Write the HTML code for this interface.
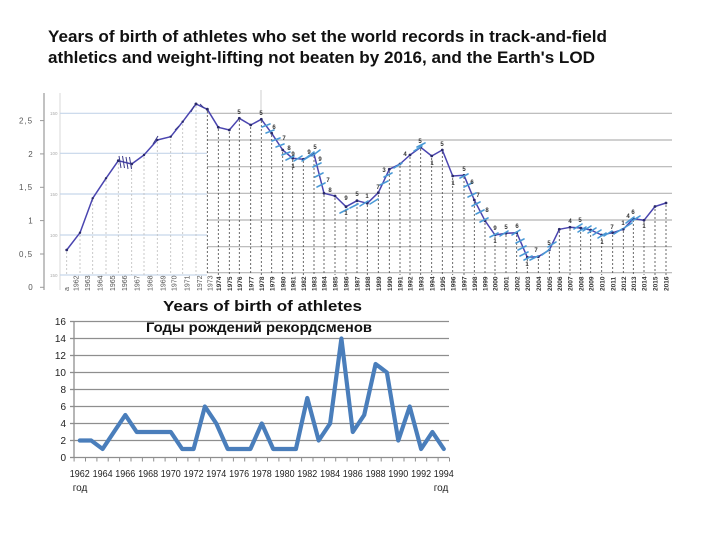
<!DOCTYPE html>
<html>
<head>
<meta charset="utf-8">
<style>
  html, body { margin:0; padding:0; background:#fff; }
  svg { display:block; }
  text { font-family: "Liberation Sans", "Noto Sans CJK SC", "DejaVu Sans", sans-serif; }
</style>
</head>
<body>
<svg width="720" height="540" viewBox="0 0 720 540" xmlns="http://www.w3.org/2000/svg">
  <rect width="720" height="540" fill="#fff"/>

  <!-- Main title -->
  <text x="48" y="42" font-size="17" font-weight="bold" fill="#111" textLength="559" lengthAdjust="spacingAndGlyphs">Years of birth of athletes who set the world records in track-and-field</text>
  <text x="48" y="63" font-size="17" font-weight="bold" fill="#111" textLength="547" lengthAdjust="spacingAndGlyphs">athletics and weight-lifting not beaten by 2016, and the Earth's LOD</text>

  <!-- ================= UPPER CHART ================= -->
  <line x1="44" y1="93" x2="44" y2="290" stroke="#9a9a9a" stroke-width="1.2"/>
  <g stroke="#9a9a9a" stroke-width="1">
    <line x1="40" y1="120.6" x2="44" y2="120.6"/>
    <line x1="40" y1="153.9" x2="44" y2="153.9"/>
    <line x1="40" y1="187.3" x2="44" y2="187.3"/>
    <line x1="40" y1="220.6" x2="44" y2="220.6"/>
    <line x1="40" y1="254" x2="44" y2="254"/>
    <line x1="40" y1="287.3" x2="44" y2="287.3"/>
  </g>
  <g font-size="8" fill="#555" text-anchor="middle" letter-spacing="1">
    <text x="26" y="123.5">2,5</text>
    <text x="31" y="156.8">2</text>
    <text x="26" y="190.2">1,5</text>
    <text x="31" y="223.5">1</text>
    <text x="26" y="256.9">0,5</text>
    <text x="31" y="290.2">0</text>
  </g>

  <line x1="60" y1="93" x2="60" y2="290" stroke="#d8d8d8" stroke-width="1"/>
  <line x1="261" y1="90" x2="261" y2="113" stroke="#cfcfcf" stroke-width="1"/>

  <g stroke="#c6d6ea" stroke-width="1.2">
    <line x1="60" y1="113.3" x2="207" y2="113.3"/>
    <line x1="60" y1="153.3" x2="207" y2="153.3"/>
    <line x1="60" y1="194" x2="207" y2="194"/>
    <line x1="60" y1="235" x2="207" y2="235"/>
    <line x1="60" y1="275" x2="207" y2="275"/>
  </g>
  <g font-size="4.5" fill="#aaa">
    <text x="50" y="115">150</text>
    <text x="50" y="155">100</text>
    <text x="50" y="196">150</text>
    <text x="50" y="237">100</text>
    <text x="50" y="277">150</text>
  </g>

  <g stroke="#b4b4b4" stroke-width="1.2">
    <line x1="207" y1="113.3" x2="672" y2="113.3"/>
    <line x1="207" y1="140" x2="672" y2="140"/>
    <line x1="207" y1="166.7" x2="672" y2="166.7"/>
    <line x1="207" y1="193.3" x2="672" y2="193.3"/>
    <line x1="207" y1="220" x2="672" y2="220"/>
    <line x1="207" y1="246.7" x2="672" y2="246.7"/>
    <line x1="207" y1="272.7" x2="672" y2="272.7"/>
  </g>

  <g stroke="#bdbdbd" stroke-width="0.8" stroke-dasharray="2,2">
    <line x1="66.7" y1="252" x2="66.7" y2="275"/>
    <line x1="80" y1="235" x2="80" y2="275"/>
    <line x1="92.7" y1="200" x2="92.7" y2="275"/>
    <line x1="106" y1="180" x2="106" y2="275"/>
    <line x1="118.3" y1="163" x2="118.3" y2="275"/>
    <line x1="131.7" y1="166" x2="131.7" y2="275"/>
    <line x1="144" y1="157" x2="144" y2="275"/>
    <line x1="157.3" y1="142" x2="157.3" y2="275"/>
    <line x1="170.7" y1="139" x2="170.7" y2="275"/>
    <line x1="182.7" y1="124" x2="182.7" y2="275"/>
    <line x1="196" y1="106" x2="196" y2="275"/>
  </g>
  <g stroke="#444" stroke-width="0.8" stroke-dasharray="2,2">
    <line x1="207.3" y1="111" x2="207.3" y2="275"/>
    <line x1="218.3" y1="129" x2="218.3" y2="275"/>
    <line x1="229.3" y1="132" x2="229.3" y2="275"/>
    <line x1="239.3" y1="120" x2="239.3" y2="275"/>
    <line x1="250.7" y1="127" x2="250.7" y2="275"/>
    <line x1="261.3" y1="121" x2="261.3" y2="275"/>
    <line x1="271.7" y1="135" x2="271.7" y2="275"/>
    <line x1="282.7" y1="152" x2="282.7" y2="275"/>
    <line x1="292.7" y1="160" x2="292.7" y2="275"/>
    <line x1="303.3" y1="161" x2="303.3" y2="275"/>
    <line x1="314" y1="156" x2="314" y2="275"/>
    <line x1="324" y1="195" x2="324" y2="275"/>
    <line x1="335" y1="198" x2="335" y2="275"/>
    <line x1="346" y1="209" x2="346" y2="275"/>
    <line x1="357" y1="203" x2="357" y2="275"/>
    <line x1="367.3" y1="205" x2="367.3" y2="275"/>
    <line x1="378.3" y1="195" x2="378.3" y2="275"/>
    <line x1="389.3" y1="171" x2="389.3" y2="275"/>
    <line x1="400" y1="166" x2="400" y2="275"/>
    <line x1="410" y1="157" x2="410" y2="275"/>
    <line x1="420.7" y1="149" x2="420.7" y2="275"/>
    <line x1="431.7" y1="158" x2="431.7" y2="275"/>
    <line x1="442.3" y1="152" x2="442.3" y2="275"/>
    <line x1="452.7" y1="178" x2="452.7" y2="275"/>
    <line x1="464" y1="177" x2="464" y2="275"/>
    <line x1="474.3" y1="202" x2="474.3" y2="275"/>
    <line x1="485" y1="223" x2="485" y2="275"/>
    <line x1="495" y1="237" x2="495" y2="275"/>
    <line x1="506" y1="235" x2="506" y2="275"/>
    <line x1="516.7" y1="235" x2="516.7" y2="275"/>
    <line x1="527.3" y1="259" x2="527.3" y2="275"/>
    <line x1="538.3" y1="259" x2="538.3" y2="275"/>
    <line x1="549.3" y1="252" x2="549.3" y2="275"/>
    <line x1="559.3" y1="231" x2="559.3" y2="275"/>
    <line x1="570" y1="229" x2="570" y2="275"/>
    <line x1="580.7" y1="228" x2="580.7" y2="275"/>
    <line x1="590.7" y1="231" x2="590.7" y2="275"/>
    <line x1="601.7" y1="238" x2="601.7" y2="275"/>
    <line x1="612.7" y1="235" x2="612.7" y2="275"/>
    <line x1="623.3" y1="231" x2="623.3" y2="275"/>
    <line x1="633.3" y1="220" x2="633.3" y2="275"/>
    <line x1="644" y1="222" x2="644" y2="275"/>
    <line x1="655" y1="209" x2="655" y2="275"/>
    <line x1="666" y1="205" x2="666" y2="275"/>
  </g>

  <g font-size="7" fill="#555">
    <text transform="translate(69,291) rotate(-90)">a</text>
    <text transform="translate(78.5,291) rotate(-90)">1962</text>
    <text transform="translate(90,291) rotate(-90)">1963</text>
    <text transform="translate(102.5,291) rotate(-90)">1964</text>
    <text transform="translate(115,291) rotate(-90)">1965</text>
    <text transform="translate(127,291) rotate(-90)">1966</text>
    <text transform="translate(139.5,291) rotate(-90)">1967</text>
    <text transform="translate(152.5,291) rotate(-90)">1968</text>
    <text transform="translate(165.5,291) rotate(-90)">1969</text>
    <text transform="translate(176.5,291) rotate(-90)">1970</text>
    <text transform="translate(189.5,291) rotate(-90)">1971</text>
    <text transform="translate(202,291) rotate(-90)">1972</text>
    <text transform="translate(212.5,291) rotate(-90)">1973</text>
  </g>
  <g font-size="6.5" fill="#333" font-weight="bold">
    <text transform="translate(221,291) rotate(-90)">1974</text>
    <text transform="translate(232,291) rotate(-90)">1975</text>
    <text transform="translate(242,291) rotate(-90)">1976</text>
    <text transform="translate(253.4,291) rotate(-90)">1977</text>
    <text transform="translate(264,291) rotate(-90)">1978</text>
    <text transform="translate(274.4,291) rotate(-90)">1979</text>
    <text transform="translate(285.4,291) rotate(-90)">1980</text>
    <text transform="translate(295.4,291) rotate(-90)">1981</text>
    <text transform="translate(306,291) rotate(-90)">1982</text>
    <text transform="translate(316.7,291) rotate(-90)">1983</text>
    <text transform="translate(326.7,291) rotate(-90)">1984</text>
    <text transform="translate(337.7,291) rotate(-90)">1985</text>
    <text transform="translate(348.7,291) rotate(-90)">1986</text>
    <text transform="translate(359.7,291) rotate(-90)">1987</text>
    <text transform="translate(370,291) rotate(-90)">1988</text>
    <text transform="translate(381,291) rotate(-90)">1989</text>
    <text transform="translate(392,291) rotate(-90)">1990</text>
    <text transform="translate(402.7,291) rotate(-90)">1991</text>
    <text transform="translate(412.7,291) rotate(-90)">1992</text>
    <text transform="translate(423.4,291) rotate(-90)">1993</text>
    <text transform="translate(434.4,291) rotate(-90)">1994</text>
    <text transform="translate(445,291) rotate(-90)">1995</text>
    <text transform="translate(455.4,291) rotate(-90)">1996</text>
    <text transform="translate(466.7,291) rotate(-90)">1997</text>
    <text transform="translate(477,291) rotate(-90)">1998</text>
    <text transform="translate(487.7,291) rotate(-90)">1999</text>
    <text transform="translate(497.7,291) rotate(-90)">2000</text>
    <text transform="translate(508.7,291) rotate(-90)">2001</text>
    <text transform="translate(519.4,291) rotate(-90)">2002</text>
    <text transform="translate(530,291) rotate(-90)">2003</text>
    <text transform="translate(541,291) rotate(-90)">2004</text>
    <text transform="translate(552,291) rotate(-90)">2005</text>
    <text transform="translate(562,291) rotate(-90)">2006</text>
    <text transform="translate(572.7,291) rotate(-90)">2007</text>
    <text transform="translate(583.4,291) rotate(-90)">2008</text>
    <text transform="translate(593.4,291) rotate(-90)">2009</text>
    <text transform="translate(604.4,291) rotate(-90)">2010</text>
    <text transform="translate(615.4,291) rotate(-90)">2011</text>
    <text transform="translate(626,291) rotate(-90)">2012</text>
    <text transform="translate(636,291) rotate(-90)">2013</text>
    <text transform="translate(646.7,291) rotate(-90)">2014</text>
    <text transform="translate(657.7,291) rotate(-90)">2015</text>
    <text transform="translate(668.7,291) rotate(-90)">2016</text>
  </g>

  <polyline fill="none" stroke="#4a45b0" stroke-width="1.5" stroke-linejoin="round" points="
    66.7,250 80,232.7 92.7,198.3 106,178.3 118.3,160.7 131.7,164 144,155 157.3,140 170.7,136.7 182.7,121.7 196,104
    207.3,109.3 218.3,127.3 229.3,130 239.3,118.3 250.7,125 261.3,119.3 271.7,133.3 282.7,150 292.7,158.3 303.3,159.3
    314,154 324,193.3 335,196 346,206.7 357,200.7 367.3,203.3 378.3,192.7 389.3,169.3 400,164 410,155 420.7,147.3
    431.7,156 442.3,150 452.7,176 464,175.3 474.3,200 485,220.7 495,235 506,233.3 516.7,232.7 527.3,257.3 538.3,256.7
    549.3,250 559.3,229.3 570,227.3 580.7,228 590.7,230 601.7,235 612.7,232.7 623.3,229.3 633.3,218.6 644,220.3
    655,206.5 666,203"/>
  <g fill="#2a2a6a">
    <circle cx="66.7" cy="250" r="1.4"/><circle cx="80" cy="232.7" r="1.2"/><circle cx="92.7" cy="198.3" r="1.2"/>
    <circle cx="106" cy="178.3" r="1.2"/><circle cx="118.3" cy="160.7" r="1.4"/><circle cx="131.7" cy="164" r="1.4"/>
    <circle cx="144" cy="155" r="1.2"/><circle cx="157.3" cy="140" r="1.2"/><circle cx="170.7" cy="136.7" r="1.2"/>
    <circle cx="182.7" cy="121.7" r="1.2"/><circle cx="196" cy="104" r="1.5"/><circle cx="207.3" cy="109.3" r="1.5"/>
    <circle cx="218.3" cy="127.3" r="1.4"/><circle cx="229.3" cy="130" r="1.4"/><circle cx="239.3" cy="118.3" r="1.4"/>
    <circle cx="250.7" cy="125" r="1.4"/><circle cx="261.3" cy="119.3" r="1.4"/><circle cx="271.7" cy="133.3" r="1.4"/>
    <circle cx="282.7" cy="150" r="1.4"/><circle cx="292.7" cy="158.3" r="1.4"/><circle cx="303.3" cy="159.3" r="1.4"/>
    <circle cx="314" cy="154" r="1.4"/><circle cx="324" cy="193.3" r="1.4"/><circle cx="335" cy="196" r="1.4"/>
    <circle cx="346" cy="206.7" r="1.4"/><circle cx="357" cy="200.7" r="1.4"/><circle cx="367.3" cy="203.3" r="1.4"/>
    <circle cx="378.3" cy="192.7" r="1.4"/><circle cx="389.3" cy="169.3" r="1.4"/><circle cx="400" cy="164" r="1.4"/>
    <circle cx="410" cy="155" r="1.4"/><circle cx="420.7" cy="147.3" r="1.4"/><circle cx="431.7" cy="156" r="1.4"/>
    <circle cx="442.3" cy="150" r="1.4"/><circle cx="452.7" cy="176" r="1.4"/><circle cx="464" cy="175.3" r="1.4"/>
    <circle cx="474.3" cy="200" r="1.4"/><circle cx="485" cy="220.7" r="1.4"/><circle cx="495" cy="235" r="1.4"/>
    <circle cx="506" cy="233.3" r="1.4"/><circle cx="516.7" cy="232.7" r="1.4"/><circle cx="527.3" cy="257.3" r="1.4"/>
    <circle cx="538.3" cy="256.7" r="1.4"/><circle cx="549.3" cy="250" r="1.4"/><circle cx="559.3" cy="229.3" r="1.4"/>
    <circle cx="570" cy="227.3" r="1.4"/><circle cx="580.7" cy="228" r="1.4"/><circle cx="590.7" cy="230" r="1.4"/>
    <circle cx="601.7" cy="235" r="1.4"/><circle cx="612.7" cy="232.7" r="1.4"/><circle cx="623.3" cy="229.3" r="1.4"/>
    <circle cx="633.3" cy="218.6" r="1.4"/><circle cx="644" cy="220.3" r="1.4"/><circle cx="655" cy="206.5" r="1.4"/>
    <circle cx="666" cy="203" r="1.4"/>
  </g>

  <g stroke="#3a3a8a" stroke-width="1">
    <line x1="119" y1="156" x2="121" y2="168"/>
    <line x1="122.5" y1="156" x2="124.5" y2="168"/>
    <line x1="126" y1="157" x2="128" y2="169"/>
    <line x1="129.5" y1="157" x2="131.5" y2="169"/>
    <line x1="153" y1="144" x2="158" y2="136"/>
    <line x1="175" y1="130" x2="179" y2="126"/>
    <line x1="191" y1="112" x2="194" y2="106"/>
    <line x1="200" y1="104" x2="204" y2="108"/>
  </g>

  <g stroke="#4a9ad6" stroke-width="1.6" stroke-linecap="round">
    <line x1="262" y1="127" x2="270" y2="124"/><line x1="266" y1="133" x2="274" y2="130"/>
    <line x1="272" y1="141" x2="280" y2="138"/><line x1="276" y1="147" x2="284" y2="144"/>
    <line x1="282" y1="155" x2="290" y2="152"/><line x1="286" y1="160" x2="294" y2="156"/>
    <line x1="294" y1="161" x2="302" y2="156"/><line x1="302" y1="161" x2="310" y2="156"/>
    <line x1="306" y1="158" x2="314" y2="152"/><line x1="312" y1="156" x2="320" y2="150"/>
    <line x1="313" y1="167" x2="321" y2="163"/><line x1="315" y1="177" x2="323" y2="173"/>
    <line x1="317" y1="187" x2="325" y2="183"/>
    <line x1="340" y1="213" x2="348" y2="209"/><line x1="350" y1="208" x2="358" y2="204"/>
    <line x1="360" y1="206" x2="368" y2="201"/><line x1="370" y1="204" x2="378" y2="199"/>
    <line x1="380" y1="185" x2="388" y2="181"/><line x1="384" y1="177" x2="392" y2="173"/>
    <line x1="394" y1="168" x2="402" y2="163"/><line x1="414" y1="151" x2="422" y2="146"/>
    <line x1="417" y1="147" x2="425" y2="143"/>
    <line x1="460" y1="178" x2="468" y2="174"/><line x1="464" y1="187" x2="472" y2="183"/>
    <line x1="468" y1="197" x2="476" y2="193"/><line x1="472" y1="206" x2="480" y2="202"/>
    <line x1="476" y1="214" x2="484" y2="210"/><line x1="480" y1="222" x2="488" y2="218"/>
    <line x1="490" y1="237" x2="498" y2="233"/><line x1="500" y1="236" x2="508" y2="231"/>
    <line x1="512" y1="235" x2="520" y2="230"/><line x1="516" y1="243" x2="524" y2="239"/>
    <line x1="518" y1="250" x2="526" y2="246"/><line x1="520" y1="256" x2="528" y2="252"/>
    <line x1="524" y1="260" x2="532" y2="256"/><line x1="530" y1="260" x2="538" y2="256"/>
    <line x1="542" y1="255" x2="550" y2="249"/><line x1="548" y1="247" x2="556" y2="242"/>
    <line x1="574" y1="229" x2="582" y2="224"/><line x1="578" y1="232" x2="586" y2="227"/>
    <line x1="583" y1="231" x2="591" y2="226"/><line x1="588" y1="233" x2="596" y2="228"/>
    <line x1="593" y1="235" x2="601" y2="230"/><line x1="598" y1="238" x2="606" y2="233"/>
    <line x1="604" y1="236" x2="612" y2="231"/><line x1="614" y1="234" x2="622" y2="229"/>
    <line x1="624" y1="228" x2="632" y2="223"/><line x1="626" y1="223" x2="634" y2="217"/>
    <line x1="632" y1="221" x2="640" y2="216"/>
  </g>

  <g font-size="6" font-weight="bold" fill="#333" text-anchor="middle">
    <text x="239" y="114">5</text><text x="261" y="115">5</text><text x="274" y="129">6</text>
    <text x="284" y="140">7</text><text x="289" y="150">8</text><text x="293" y="156">9</text>
    <text x="293" y="168">1</text><text x="309" y="154">9</text><text x="315" y="149">5</text>
    <text x="320" y="161">9</text><text x="328" y="182">7</text><text x="330" y="192">8</text>
    <text x="346" y="200">9</text><text x="346" y="215">1</text><text x="357" y="196">5</text>
    <text x="367" y="198">1</text><text x="378" y="189">7</text><text x="384" y="172">3</text>
    <text x="405" y="156">4</text><text x="420" y="143">5</text><text x="432" y="165">1</text>
    <text x="442" y="146">5</text><text x="453" y="185">1</text><text x="464" y="171">5</text>
    <text x="472" y="184">6</text><text x="478" y="197">7</text><text x="487" y="212">8</text>
    <text x="495" y="230">9</text><text x="495" y="243">1</text><text x="506" y="229">5</text>
    <text x="517" y="228">6</text><text x="527" y="266">1</text><text x="536" y="252">7</text>
    <text x="549" y="245">5</text><text x="570" y="223">4</text><text x="580" y="222">5</text>
    <text x="602" y="244">1</text><text x="612" y="229">7</text><text x="623" y="225">1</text>
    <text x="628" y="218">4</text><text x="633" y="214">6</text><text x="644" y="228">1</text>
  </g>

  <!-- ================= LOWER CHART ================= -->
  <text x="163" y="311" font-size="15" font-weight="bold" fill="#111" textLength="199" lengthAdjust="spacingAndGlyphs">Years of birth of athletes</text>

  <g stroke="#8e8e8e" stroke-width="1.3">
    <line x1="74" y1="321.5" x2="449" y2="321.5"/>
    <line x1="74" y1="338.5" x2="449" y2="338.5"/>
    <line x1="74" y1="355.5" x2="449" y2="355.5"/>
    <line x1="74" y1="372.5" x2="449" y2="372.5"/>
    <line x1="74" y1="389.5" x2="449" y2="389.5"/>
    <line x1="74" y1="406.5" x2="449" y2="406.5"/>
    <line x1="74" y1="423.5" x2="449" y2="423.5"/>
    <line x1="74" y1="440.5" x2="449" y2="440.5"/>
  </g>
  <text x="146" y="332" font-size="14" font-weight="bold" fill="#111" textLength="226" lengthAdjust="spacingAndGlyphs">Годы рождений рекордсменов</text>

  <g stroke="#8e8e8e" stroke-width="1.3">
    <line x1="74" y1="321.5" x2="74" y2="457.5"/>
    <line x1="74" y1="457.5" x2="449" y2="457.5"/>
    <line x1="70" y1="321.5" x2="74" y2="321.5"/>
    <line x1="70" y1="338.5" x2="74" y2="338.5"/>
    <line x1="70" y1="355.5" x2="74" y2="355.5"/>
    <line x1="70" y1="372.5" x2="74" y2="372.5"/>
    <line x1="70" y1="389.5" x2="74" y2="389.5"/>
    <line x1="70" y1="406.5" x2="74" y2="406.5"/>
    <line x1="70" y1="423.5" x2="74" y2="423.5"/>
    <line x1="70" y1="440.5" x2="74" y2="440.5"/>
    <line x1="70" y1="457.5" x2="74" y2="457.5"/>
  </g>
  <g stroke="#8e8e8e" stroke-width="1">
    <line x1="74.1" y1="457.5" x2="74.1" y2="461.5"/><line x1="85.5" y1="457.5" x2="85.5" y2="461.5"/>
    <line x1="96.9" y1="457.5" x2="96.9" y2="461.5"/><line x1="108.2" y1="457.5" x2="108.2" y2="461.5"/>
    <line x1="119.6" y1="457.5" x2="119.6" y2="461.5"/><line x1="131" y1="457.5" x2="131" y2="461.5"/>
    <line x1="142.4" y1="457.5" x2="142.4" y2="461.5"/><line x1="153.7" y1="457.5" x2="153.7" y2="461.5"/>
    <line x1="165.1" y1="457.5" x2="165.1" y2="461.5"/><line x1="176.5" y1="457.5" x2="176.5" y2="461.5"/>
    <line x1="187.9" y1="457.5" x2="187.9" y2="461.5"/><line x1="199.2" y1="457.5" x2="199.2" y2="461.5"/>
    <line x1="210.6" y1="457.5" x2="210.6" y2="461.5"/><line x1="222" y1="457.5" x2="222" y2="461.5"/>
    <line x1="233.4" y1="457.5" x2="233.4" y2="461.5"/><line x1="244.7" y1="457.5" x2="244.7" y2="461.5"/>
    <line x1="256.1" y1="457.5" x2="256.1" y2="461.5"/><line x1="267.5" y1="457.5" x2="267.5" y2="461.5"/>
    <line x1="278.9" y1="457.5" x2="278.9" y2="461.5"/><line x1="290.2" y1="457.5" x2="290.2" y2="461.5"/>
    <line x1="301.6" y1="457.5" x2="301.6" y2="461.5"/><line x1="313" y1="457.5" x2="313" y2="461.5"/>
    <line x1="324.4" y1="457.5" x2="324.4" y2="461.5"/><line x1="335.7" y1="457.5" x2="335.7" y2="461.5"/>
    <line x1="347.1" y1="457.5" x2="347.1" y2="461.5"/><line x1="358.5" y1="457.5" x2="358.5" y2="461.5"/>
    <line x1="369.9" y1="457.5" x2="369.9" y2="461.5"/><line x1="381.2" y1="457.5" x2="381.2" y2="461.5"/>
    <line x1="392.6" y1="457.5" x2="392.6" y2="461.5"/><line x1="404" y1="457.5" x2="404" y2="461.5"/>
    <line x1="415.4" y1="457.5" x2="415.4" y2="461.5"/><line x1="426.7" y1="457.5" x2="426.7" y2="461.5"/>
    <line x1="438.1" y1="457.5" x2="438.1" y2="461.5"/><line x1="449.5" y1="457.5" x2="449.5" y2="461.5"/>
  </g>

  <g font-size="10" fill="#222" text-anchor="end">
    <text x="66" y="325">16</text>
    <text x="66" y="342">14</text>
    <text x="66" y="359">12</text>
    <text x="66" y="376">10</text>
    <text x="66" y="393">8</text>
    <text x="66" y="410">6</text>
    <text x="66" y="427">4</text>
    <text x="66" y="444">2</text>
    <text x="66" y="461">0</text>
  </g>

  <g font-size="10" fill="#222" text-anchor="middle" lengthAdjust="spacingAndGlyphs">
    <text x="79.8" y="477" textLength="20" lengthAdjust="spacingAndGlyphs">1962</text>
    <text x="102.6" y="477" textLength="20" lengthAdjust="spacingAndGlyphs">1964</text>
    <text x="125.3" y="477" textLength="20" lengthAdjust="spacingAndGlyphs">1966</text>
    <text x="148.1" y="477" textLength="20" lengthAdjust="spacingAndGlyphs">1968</text>
    <text x="170.8" y="477" textLength="20" lengthAdjust="spacingAndGlyphs">1970</text>
    <text x="193.6" y="477" textLength="20" lengthAdjust="spacingAndGlyphs">1972</text>
    <text x="216.3" y="477" textLength="20" lengthAdjust="spacingAndGlyphs">1974</text>
    <text x="239.1" y="477" textLength="20" lengthAdjust="spacingAndGlyphs">1976</text>
    <text x="261.8" y="477" textLength="20" lengthAdjust="spacingAndGlyphs">1978</text>
    <text x="284.6" y="477" textLength="20" lengthAdjust="spacingAndGlyphs">1980</text>
    <text x="307.3" y="477" textLength="20" lengthAdjust="spacingAndGlyphs">1982</text>
    <text x="330.1" y="477" textLength="20" lengthAdjust="spacingAndGlyphs">1984</text>
    <text x="352.8" y="477" textLength="20" lengthAdjust="spacingAndGlyphs">1986</text>
    <text x="375.6" y="477" textLength="20" lengthAdjust="spacingAndGlyphs">1988</text>
    <text x="398.3" y="477" textLength="20" lengthAdjust="spacingAndGlyphs">1990</text>
    <text x="421.1" y="477" textLength="20" lengthAdjust="spacingAndGlyphs">1992</text>
    <text x="443.8" y="477" textLength="20" lengthAdjust="spacingAndGlyphs">1994</text>
    <text x="80" y="491">год</text>
    <text x="441" y="491">год</text>
  </g>

  <polyline fill="none" stroke="#4a7ebb" stroke-width="4.2" stroke-linejoin="round" stroke-linecap="round" points="
    79.8,440.5 91.2,440.5 102.6,449 113.9,432 125.3,415 136.7,432 148.1,432 159.4,432 170.8,432 182.2,449 193.6,449
    204.9,406.5 216.3,423.5 227.7,449 239.1,449 250.4,449 261.8,423.5 273.2,449 284.6,449 295.9,449 307.3,398
    318.7,440.5 330.1,423.5 341.4,338.5 352.8,432 364.2,415 375.6,364 386.9,372.5 398.3,440.5 409.7,406.5
    421.1,449 432.4,432 443.8,449"/>
</svg>
</body>
</html>
